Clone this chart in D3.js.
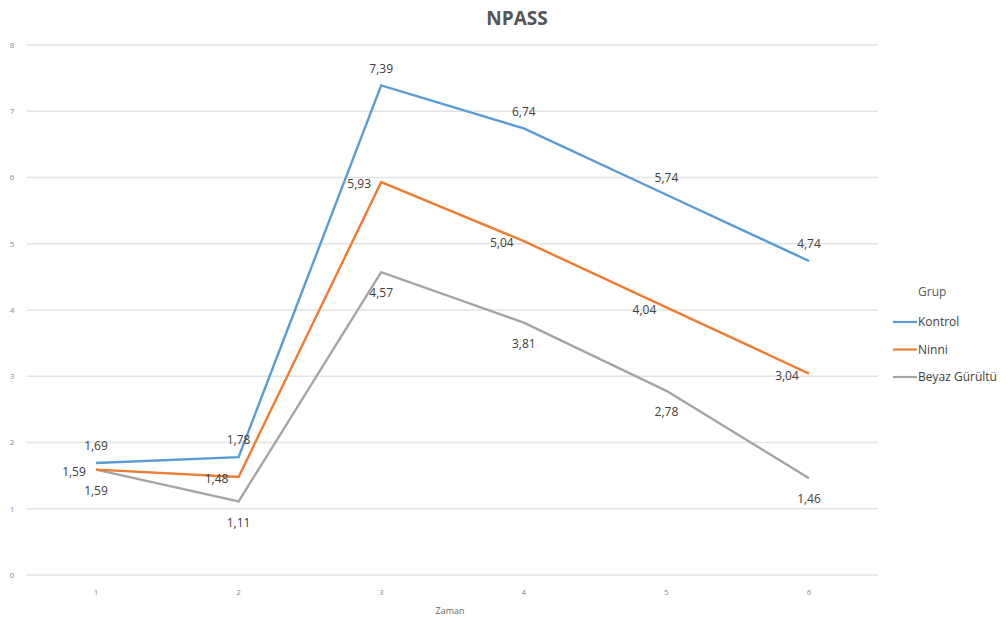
<!DOCTYPE html>
<html><head><meta charset="utf-8">
<script src="https://cdn.jsdelivr.net/npm/d3@7"></script>
<style>body{margin:0;background:#fff;} svg{display:block;}</style>
</head><body>
<svg id="c" width="1008" height="625"></svg>
<script>
const categories = ["1","2","3","4","5","6"];
const seriesNames = ["Kontrol","Ninni","Beyaz Gürültü"];
const kontrol = [1.69, 1.78, 7.39, 6.74, 5.74, 4.74];
const ninni = [1.59, 1.48, 5.93, 5.04, 4.04, 3.04];
const beyaz = [1.59, 1.11, 4.57, 3.81, 2.78, 1.46];
const yTicks = [0,1,2,3,4,5,6,7,8];
const colors = ["#5b9bd5","#ed7d31","#a5a5a5"];
const labelPos = ["above","left","below"];

const svg = d3.select("#c");
const font = "'Open Sans', 'Liberation Sans', sans-serif";
const x = d3.scalePoint().domain(categories).range([96, 809]);
const y = d3.scaleLinear().domain([0,8]).range([575, 45]);

// gridlines
svg.append("g").selectAll("line").data(yTicks).join("line")
  .attr("x1", 27).attr("x2", 878)
  .attr("y1", d=>y(d)).attr("y2", d=>y(d))
  .attr("stroke", "#e3e3e3").attr("stroke-width", 1.3);

// y tick labels
svg.append("g").selectAll("text").data(yTicks).join("text")
  .attr("x", 12).attr("y", d=>y(d)).attr("dy","0.35em")
  .attr("text-anchor","middle")
  .attr("font-family", font).attr("font-size", 8).attr("fill", "#8a8a8a")
  .text(d=>d);

// x tick labels
svg.append("g").selectAll("text").data(categories).join("text")
  .attr("x", d=>x(d)).attr("y", 592).attr("dy","0.35em")
  .attr("text-anchor","middle")
  .attr("font-family", font).attr("font-size", 8).attr("fill", "#8a8a8a")
  .text(d=>d);

svg.append("text").attr("x", 450).attr("y", 611).attr("dy","0.35em")
  .attr("text-anchor","middle").attr("font-family", font).attr("font-size", 9)
  .attr("fill", "#6a6a6a").text("Zaman");

svg.append("text").attr("x", 517).attr("y", 18).attr("dy","0.35em")
  .attr("text-anchor","middle").attr("font-family", font).attr("font-size", 19)
  .attr("font-weight","bold").attr("fill", "#555").text("NPASS");

const allSeries = [kontrol, ninni, beyaz];
const line = d3.line().x((d,i)=>x(categories[i])).y(d=>y(d));

// draw lines in reverse order so Kontrol on top
allSeries.map((s,k)=>({s,k})).reverse().forEach(({s,k})=>{
  svg.append("path").datum(s).attr("d", line)
    .attr("fill","none").attr("stroke", colors[k]).attr("stroke-width", 2.4)
    .attr("stroke-linejoin","miter");
});

// labels
const fmt = v => v.toFixed(2).replace(".", ",");
allSeries.forEach((s,k)=>{
  svg.append("g").selectAll("text").data(s).join("text")
    .attr("x", (d,i)=> x(categories[i]) + (labelPos[k]==="left" ? -22 : 0))
    .attr("y", (d,i)=> y(d) + (labelPos[k]==="above" ? -17 : labelPos[k]==="below" ? 21 : 2))
    .attr("dy","0.35em").attr("text-anchor","middle")
    .attr("font-family", font).attr("font-size", 12).attr("fill", "#404040")
    .text(d=>fmt(d));
});

// legend
const lg = svg.append("g");
lg.append("text").attr("x", 918).attr("y", 292).attr("dy","0.35em")
  .attr("font-family", font).attr("font-size", 12).attr("fill", "#595959").text("Grup");
seriesNames.forEach((n,k)=>{
  const yy = 322 + k*27.5;
  lg.append("line").attr("x1", 893).attr("x2", 917).attr("y1", yy).attr("y2", yy)
    .attr("stroke", colors[k]).attr("stroke-width", 2.2);
  lg.append("text").attr("x", 918).attr("y", yy).attr("dy","0.35em")
    .attr("font-family", font).attr("font-size", 12).attr("fill", "#404040").text(n);
});
</script>
</body></html>
